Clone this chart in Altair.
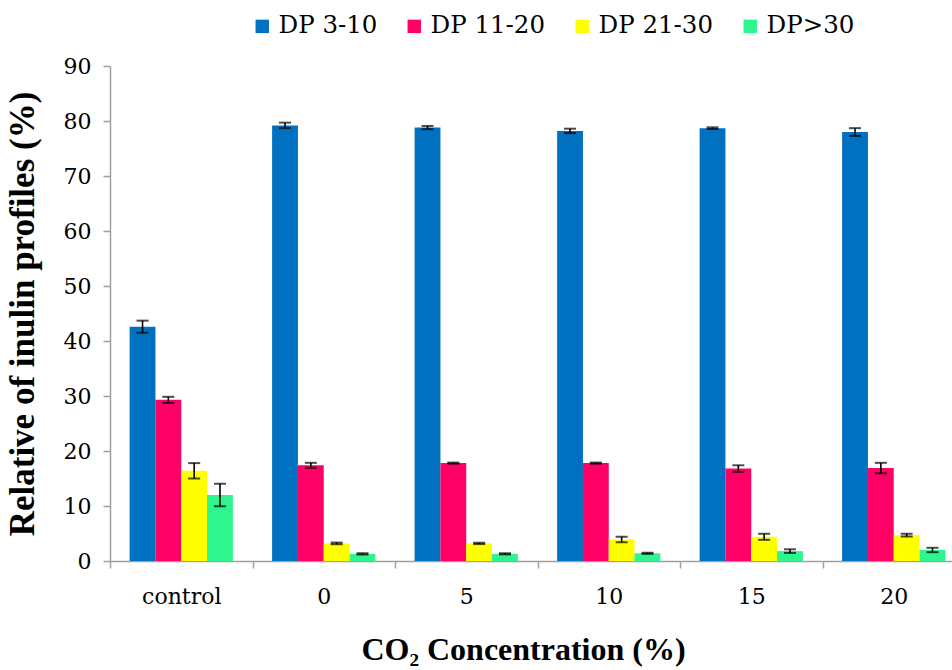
import altair as alt
import pandas as pd

# CO2 treatments on the x axis
categories = ["control", "0", "5", "10", "15", "20"]

# inulin degree-of-polymerisation classes
series = ["DP 3-10", "DP 11-20", "DP 21-30", "DP>30"]
colors = ["#0070C0", "#FF0066", "#FFFF00", "#2EF58E"]

# mean relative share (%) and standard deviation per class
dp_3_10 = [42.6, 79.2, 78.8, 78.2, 78.7, 78.0]
dp_3_10_sd = [1.1, 0.5, 0.3, 0.4, 0.15, 0.7]

dp_11_20 = [29.3, 17.4, 17.8, 17.8, 16.8, 16.9]
dp_11_20_sd = [0.55, 0.45, 0.1, 0.1, 0.6, 0.95]

dp_21_30 = [16.4, 3.2, 3.2, 3.9, 4.4, 4.7]
dp_21_30_sd = [1.4, 0.15, 0.12, 0.5, 0.55, 0.25]

dp_over_30 = [12.0, 1.3, 1.3, 1.4, 1.8, 2.0]
dp_over_30_sd = [2.05, 0.1, 0.1, 0.1, 0.33, 0.4]

values = [dp_3_10, dp_11_20, dp_21_30, dp_over_30]
sds = [dp_3_10_sd, dp_11_20_sd, dp_21_30_sd, dp_over_30_sd]

rows = []
for s, vals, errs in zip(series, values, sds):
    for c, v, e in zip(categories, vals, errs):
        rows.append({"cat": c, "series": s, "value": v, "lo": v - e, "hi": v + e})
df = pd.DataFrame(rows)

TITLE_FONT = "Liberation Serif"   # bold titles
LABEL_FONT = "DejaVu Serif"       # regular tick and legend labels
AXIS_GRAY = "#A0A0A0"

x_enc = alt.X(
    "cat:N",
    sort=categories,
    scale=alt.Scale(range=[0, 855], paddingInner=0, paddingOuter=0),
    axis=alt.Axis(
        title="CO₂ Concentration (%)",
        titleFont=TITLE_FONT,
        titleFontSize=32,
        titleFontWeight="bold",
        titleColor="black",
        titleX=413,
        titleY=98,
        titleBaseline="alphabetic",
        labelAngle=0,
        labelFont=LABEL_FONT,
        labelFontSize=22,
        labelColor="black",
        labelBaseline="alphabetic",
        labelPadding=35,
        tickBand="extent",
        tickSize=7,
        tickColor=AXIS_GRAY,
        tickWidth=1.5,
        domainColor=AXIS_GRAY,
        domainWidth=1.5,
        grid=False,
    ),
)
xoff_enc = alt.XOffset(
    "series:N",
    sort=series,
    scale=alt.Scale(paddingOuter=0.76, paddingInner=0),
)

base = alt.Chart(df).encode(x=x_enc, xOffset=xoff_enc)

bars = base.mark_bar().encode(
    y=alt.Y(
        "value:Q",
        scale=alt.Scale(domain=[0, 90], nice=False),
        axis=alt.Axis(
            title="Relative of inulin profiles (%)",
            titleFont=TITLE_FONT,
            titleFontSize=35,
            titleFontWeight="bold",
            titleColor="black",
            titleX=-77,
            titleY=247.5,
            titleBaseline="alphabetic",
            values=list(range(0, 91, 10)),
            labelFont=LABEL_FONT,
            labelFontSize=22,
            labelColor="black",
            labelPadding=12,
            tickSize=7,
            tickColor=AXIS_GRAY,
            tickWidth=1.5,
            domainColor=AXIS_GRAY,
            domainWidth=1.5,
            grid=False,
        ),
    ),
    color=alt.Color(
        "series:N",
        sort=series,
        scale=alt.Scale(domain=series, range=colors),
        legend=alt.Legend(
            title=None,
            orient="none",
            direction="horizontal",
            legendX=140,
            legendY=-52,
            symbolType="square",
            symbolSize=180,
            symbolStrokeWidth=0,
            labelFont=LABEL_FONT,
            labelFontSize=24.5,
            labelColor="black",
            labelOffset=4,
            columnPadding=24,
        ),
    ),
)

whisker = base.mark_rule(color="black", strokeWidth=1.6).encode(
    y="lo:Q", y2="hi:Q"
)
cap_hi = base.mark_tick(color="black", thickness=2, size=12).encode(y="hi:Q")
cap_lo = base.mark_tick(color="black", thickness=2, size=12).encode(y="lo:Q")

chart = (
    alt.layer(bars, whisker, cap_hi, cap_lo)
    .properties(
        width=842,
        height=495,
        autosize=alt.AutoSizeParams(type="none"),
        padding={"left": 110, "top": 66, "right": 0, "bottom": 109},
        background="white",
    )
    .configure_view(stroke=None)
)

chart.save("out.html", embed_options={"renderer": "svg", "actions": False})
